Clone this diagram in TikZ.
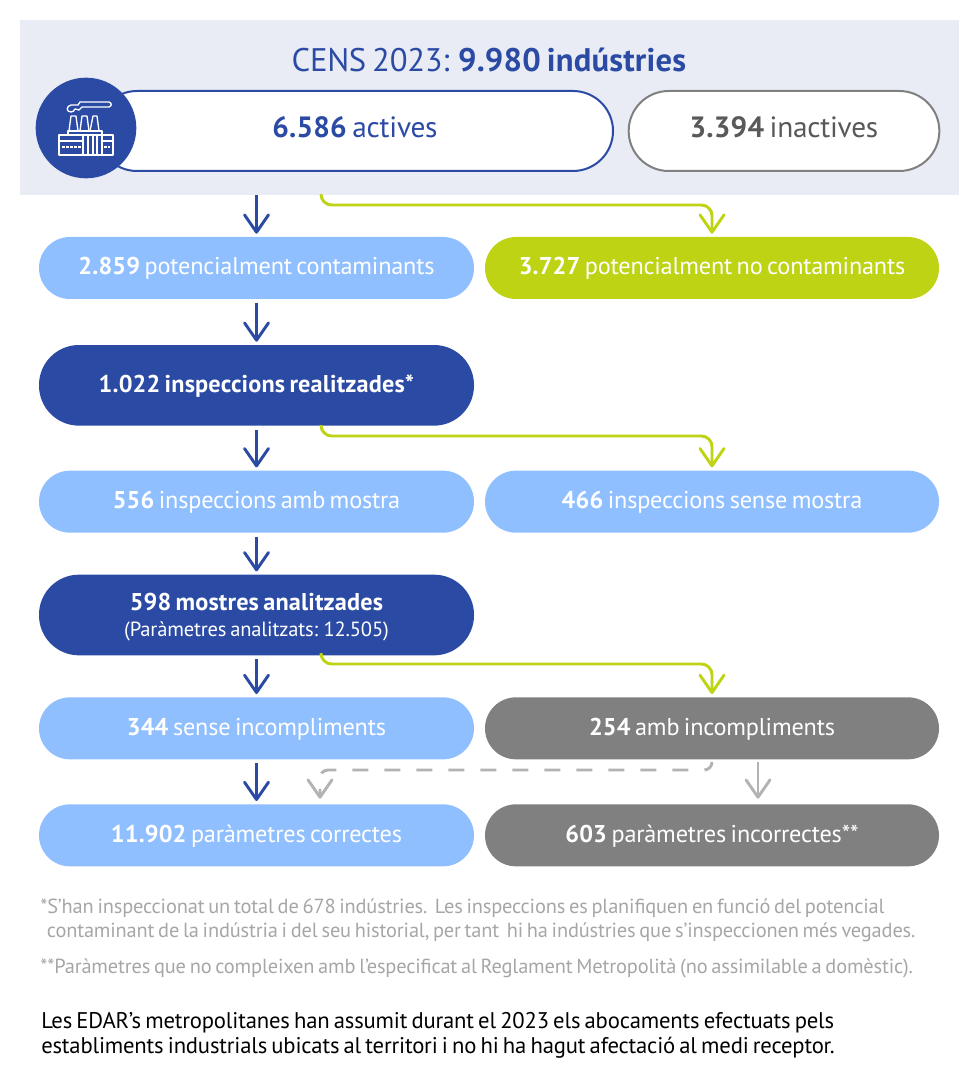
\documentclass[tikz,border=0pt]{standalone}
\usepackage{fontspec}
\setmainfont{PT Sans}[WordSpace=0.7,UprightFeatures={LetterSpace=-0.8},BoldFeatures={LetterSpace=0.6}]
\usetikzlibrary{positioning,arrows.meta}
\definecolor{fons}{HTML}{E9ECF5}
\definecolor{blaufosc}{HTML}{2B4AA4}
\definecolor{blauclar}{HTML}{90BFFF}
\definecolor{verd}{HTML}{BDD313}
\definecolor{gris}{HTML}{808080}
\definecolor{grisclar}{HTML}{B3B3B3}
\definecolor{grisnota}{HTML}{A6A6A6}
\tikzset{
    %Define standard arrow tip
    >={Straight Barb[round,width=18pt,length=13pt]},
    %Define style for boxes
    caixa/.style={
           rectangle,
           outer sep=0pt,
           inner sep=0pt,
           text=white,
           align=center,
           text height=12pt,
           text depth=1.5pt,
           font=\fontsize{18.2}{22}\selectfont,
           minimum width=326.25pt,
           minimum height=46.5pt,
           rounded corners=23.2pt},
    clar/.style={caixa, fill=blauclar},
    fosc/.style={caixa, fill=blaufosc, minimum height=60.5pt, rounded corners=30pt},
    ample/.style={minimum width=340.5pt},
    marc/.style={caixa, fill=white, line width=1.5pt, minimum height=60pt, rounded corners=30pt,
           text height=14pt, text depth=3.5pt,
           font=\fontsize{22}{26}\selectfont},
    nota/.style={anchor=north west, align=left, inner sep=0pt, text=grisnota,
           font=\fontsize{15.3}{17.6}\selectfont},
    % Define arrow style
    pil/.style={
           ->,
           line width=2.2pt,
           draw=blaufosc,
           shorten <=3pt,
           shorten >=2.5pt},
    pilverd/.style={pil, draw=verd, rounded corners=8pt, shorten <=0pt},
    pilgris/.style={pil, draw=grisclar}
}
\begin{document}
\begin{tikzpicture}[x=0.75pt,y=-0.75pt]
 \useasboundingbox (0,0) rectangle (979,1080);
 \node[anchor=north west, fill=fons, minimum width=704.25pt, minimum height=131.25pt, inner sep=0pt, outer sep=0pt] (cens) at (20,20) {};
 \node[text=blaufosc, font=\fontsize{24.5}{28}\selectfont] (titol) at (489,60) {CENS 2023: \textbf{9.980 indústries}};
 \node[marc, draw=blaufosc, text=blaufosc, minimum width=387pt] (actives) at (355,131) {\textbf{6.586} actives};
 \node[marc, draw=gris, text=black!65, minimum width=233pt] (inactives) at (784,131) {\textbf{3.394} inactives};
 \node[circle, fill=blaufosc, minimum size=75.5pt, inner sep=0pt] (icona) at (86,128) {};
 % factory icon
 \begin{scope}[draw=white, line width=1pt, line join=round]
  \draw (59,135) rectangle (113,155);
  \draw (68,135) -- (68,131) -- (102,131) -- (102,135);
  \draw (59,141) -- (83,141) (102,141) -- (113,141);
  \draw (83,135) -- (83,155) (102,135) -- (102,155);
  \draw (88,135) -- (88,155) (93,135) -- (93,155) (97,135) -- (97,155);
  \draw (69,131) -- (71,116) -- (76,116) -- (78,131);
  \draw (80,131) -- (82,116) -- (87,116) -- (89,131);
  \draw (90,131) -- (93,116) -- (97,116) -- (99,131);
  \draw[dash pattern=on 2pt off 1pt] (62,147) -- (81,147) (104,147) -- (110,147);
  \draw (71,112) .. controls (66,112) and (66,106) .. (71,105) -- (78,105) -- (80,102) -- (109,102) .. controls (112,103) and (112,106) .. (109,107) -- (82,107) -- (79,110) -- (75,109) .. controls (74,111) and (73,112) .. (71,112);
 \end{scope}
 % flow boxes
 \node[clar] (pot) at (256.5,268) {\textbf{2.859} potencialment contaminants};
 \node[caixa, ample, fill=verd, right=8.25pt of pot] (nopot) {\textbf{3.727} potencialment no contaminants};
 \node[fosc, below=34.5pt of pot] (insp) {\textbf{1.022 inspeccions realitzades*}};
 \node[clar, below=33.75pt of insp] (amb) {\textbf{556} inspeccions amb mostra};
 \node[clar, ample, right=8.25pt of amb] (sense) {\textbf{466} inspeccions sense mostra};
 \node[fosc, text height=, text depth=, below=31.5pt of amb] (mostres) {\rule{0pt}{16pt}\textbf{598 mostres analitzades}\\[-2.6pt]{\fontsize{15.4}{18}\selectfont (Paràmetres analitzats: 12.505)}};
 \node[clar, below=31.5pt of mostres] (senseinc) {\textbf{344} sense incompliments};
 \node[caixa, ample, fill=gris, right=8.25pt of senseinc] (abminc) {\textbf{254} amb incompliments};
 \node[clar, below=33.75pt of senseinc] (correctes) {\textbf{11.902} paràmetres correctes};
 \node[caixa, ample, fill=gris, right=8.25pt of correctes] (incorrectes) {\textbf{603} paràmetres incorrectes**};
 % connector ends
 \coordinate (brancaA) at (321,195);
 \coordinate (brancaB) at (321,425);
 \coordinate (brancaC) at (321,655);
 \coordinate (grisA) at (712,762);
 \coordinate (grisB) at (320,802);
 \coordinate (grisC) at (758,762);
 \coordinate (grisD) at (758,802);
 % blue arrows
 \draw[pil, shorten <=0pt] (cens.south -| pot.north) -- (pot.north);
 \draw[pil] (pot) -- (insp);
 \draw[pil] (insp) -- (amb);
 \draw[pil] (amb) -- (mostres);
 \draw[pil] (mostres) -- (senseinc);
 \draw[pil] (senseinc) -- (correctes);
 % green arrows
 \draw[pilverd] (brancaA) |- (712,205) -- (nopot.north);
 \draw[pilverd] (brancaB) |- (712,436) -- (sense.north);
 \draw[pilverd] (brancaC) |- (712,664) -- (abminc.north);
 % grey arrows
 \draw[pilgris, shorten <=0pt, dash pattern=on 12pt off 12pt, dash phase=3pt, rounded corners=6pt] (grisA) -- (712,770) -- (320,770) -- (grisB);
 \draw[pilgris, shorten <=0pt] (grisC) -- (grisD);
 % notes
 \node[nota] (notaA) at (40,899) {*S’han inspeccionat un total de 678 indústries.\ \ Les inspeccions es planifiquen en funció del potencial\\\hspace*{5pt}contaminant de la indústria i del seu historial, per tant\ \ hi ha indústries que s’inspeccionen més vegades.};
 \node[nota] (notaB) at (40,959) {**Paràmetres que no compleixen amb l’especificat al Reglament Metropolità (no assimilable a domèstic).};
 \node[nota, text=black, font=\fontsize{17}{19}\selectfont] (final) at (41,1012) {Les EDAR’s metropolitanes han assumit durant el 2023 els abocaments efectuats pels\\establiments industrials ubicats al territori i no hi ha hagut afectació al medi receptor.};
\end{tikzpicture}
\end{document}
